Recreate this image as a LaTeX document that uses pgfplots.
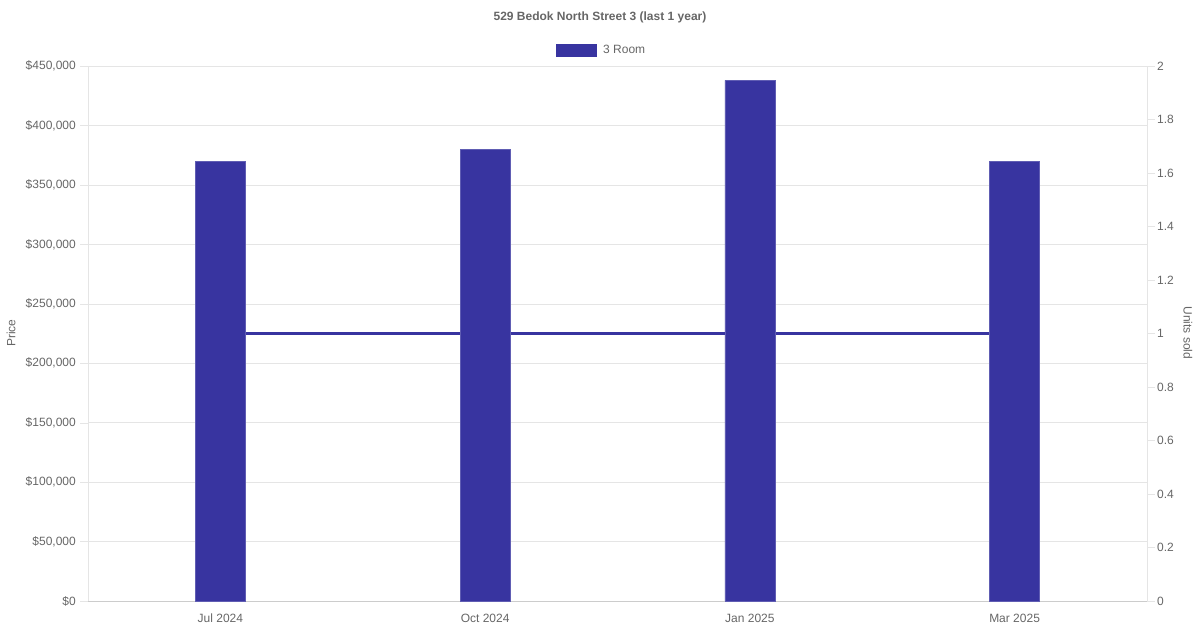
\documentclass[border=0pt]{standalone}
\usepackage{pgfplots}
\pgfplotsset{compat=1.18}
\usepackage{fontspec}
\setmainfont{Liberation Sans}

\definecolor{barblue}{RGB}{56,52,160}
\definecolor{txt}{HTML}{666666}
\definecolor{gridc}{HTML}{E5E5E5}
\definecolor{axisc}{HTML}{CCCCCC}

\begin{document}
\begin{tikzpicture}[x=1pt,y=1pt]
\useasboundingbox (0,0) rectangle (1200,630);
\fontsize{12}{14}\selectfont

\pgfplotsset{
    every axis/.append style={
        scale only axis,
        width=1059pt,
        height=535pt,
        at={(88pt,29pt)},
        anchor=south west,
        xmin=-0.5, xmax=3.5,
        tick label style={font=\fontsize{12}{14}\selectfont, text=txt},
        /pgf/number format/assume math mode=true,
        tick align=outside,
        major tick length=8pt,
    }
}

% units sold (right axis), drawn first so the bars sit over the line
\begin{axis}[
    axis x line=none,
    axis y line*=right,
    y axis line style={draw=gridc},
    ytick style={draw=gridc},
    ymin=0, ymax=2,
    ytick={0,0.2,0.4,0.6,0.8,1,1.2,1.4,1.6,1.8,2},
    yticklabel style={anchor=west, xshift=-2pt},
]
\addplot[barblue, line width=3pt] coordinates {(0,1) (1,1) (2,1) (3,1)};
\end{axis}

% price (left axis)
\begin{axis}[
    axis x line*=bottom,
    axis y line*=left,
    x axis line style={draw=axisc},
    y axis line style={draw=gridc},
    ytick style={draw=gridc},
    xtick style={draw=none},
    ymin=0, ymax=450000,
    ytick distance=50000,
    scaled y ticks=false,
    ymajorgrids,
    grid style={gridc},
    yticklabel={\$\pgfmathprintnumber[fixed,precision=0,1000 sep={,}]{\tick}},
    xtick={0,1,2,3},
    xticklabels={Jul 2024, Oct 2024, Jan 2025, Mar 2025},
    xticklabel style={yshift=-1pt},
    ybar,
    bar width=50pt,
    legend style={at={(axis description cs:0.5,1)}, anchor=center, yshift=16pt, xshift=-16pt,
        draw=none, fill=none, font=\fontsize{12}{14}\selectfont, text=txt,
        legend cell align=left,
        /tikz/every odd column/.append style={column sep=5pt}},
    legend image code/.code={\fill[barblue] (0pt,-6pt) rectangle (40pt,6pt);},
]
\addplot[fill=barblue, draw=barblue!80!white] coordinates {(0,370000) (1,380000) (2,438000) (3,370000)};
\legend{3 Room}
\end{axis}

\node[font=\bfseries\fontsize{12}{14}\selectfont, text=txt] at (600,613) {529 Bedok North Street 3 (last 1 year)};
\node[rotate=90, text=txt] at (11,297) {Price};
\node[rotate=-90, text=txt] at (1188,297) {Units sold};
\end{tikzpicture}
\end{document}
